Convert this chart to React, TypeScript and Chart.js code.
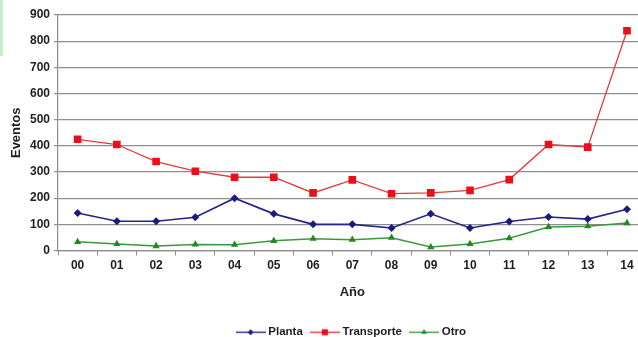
import React, { useEffect, useRef } from "react";
import { Chart, registerables } from "chart.js";

Chart.register(...registerables);

const years = ["00", "01", "02", "03", "04", "05", "06", "07", "08", "09", "10", "11", "12", "13", "14"];
const planta = [143, 112, 112, 127, 200, 140, 100, 100, 86, 140, 86, 111, 128, 120, 158];
const transporte = [425, 405, 340, 303, 280, 280, 220, 270, 217, 220, 230, 271, 405, 395, 840];
const otro = [33, 25, 17, 23, 22, 37, 45, 41, 49, 13, 25, 47, 90, 93, 105];

const FONT = 'Arial, "Liberation Sans", sans-serif';
const GRID = "#8e8e8e";
const TEXT = "#1e1e1e";

type SeriesStyle = { line: string; fill: string; shape: "rectRot" | "rect" | "triangle"; radius: number; width: number };

const styles: Record<string, SeriesStyle> = {
  Planta: { line: "#24248c", fill: "#1a1a80", shape: "rectRot", radius: 4, width: 1.6 },
  Transporte: { line: "#e43a3a", fill: "#e8111b", shape: "rect", radius: 5.4, width: 1.3 },
  Otro: { line: "#3a9a3a", fill: "#1f8a22", shape: "triangle", radius: 4.2, width: 1.5 },
};

// small line-with-marker swatch used by the legend
function makeSwatch(s: SeriesStyle): HTMLCanvasElement {
  const c = document.createElement("canvas");
  c.width = 30;
  c.height = 11;
  const ctx = c.getContext("2d")!;
  ctx.strokeStyle = s.line;
  ctx.lineWidth = 1.4;
  ctx.beginPath();
  ctx.moveTo(0, 5.5);
  ctx.lineTo(30, 5.5);
  ctx.stroke();
  ctx.fillStyle = s.fill;
  const cx = 15, cy = 5.5, r = s.radius * 0.75;
  ctx.beginPath();
  if (s.shape === "rectRot") {
    ctx.moveTo(cx - r, cy);
    ctx.lineTo(cx, cy - r);
    ctx.lineTo(cx + r, cy);
    ctx.lineTo(cx, cy + r);
  } else if (s.shape === "rect") {
    const h = r * 0.75;
    ctx.rect(cx - h, cy - h, 2 * h, 2 * h);
  } else {
    ctx.moveTo(cx, cy - r);
    ctx.lineTo(cx + r * 0.87, cy + r * 0.5);
    ctx.lineTo(cx - r * 0.87, cy + r * 0.5);
  }
  ctx.closePath();
  ctx.fill();
  return c;
}

function series(label: string, data: number[]) {
  const s = styles[label];
  return {
    label,
    data,
    borderColor: s.line,
    backgroundColor: s.fill,
    borderWidth: s.width,
    pointStyle: s.shape,
    pointRadius: s.radius,
    pointBackgroundColor: s.fill,
    pointBorderColor: s.fill,
    pointBorderWidth: 0,
    tension: 0,
  };
}

export default function App() {
  const ref = useRef<HTMLCanvasElement | null>(null);

  useEffect(() => {
    if (!ref.current) return;
    const swatches: Record<string, HTMLCanvasElement> = {
      Planta: makeSwatch(styles.Planta),
      Transporte: makeSwatch(styles.Transporte),
      Otro: makeSwatch(styles.Otro),
    };
    const chart = new Chart(ref.current, {
      type: "line",
      data: {
        labels: years,
        datasets: [series("Planta", planta), series("Transporte", transporte), series("Otro", otro)],
      },
      options: {
        responsive: false,
        animation: false,
        layout: { padding: { top: 15, right: 0, bottom: 0, left: 0 } },
        plugins: {
          tooltip: { enabled: false },
          legend: {
            position: "bottom",
            fullSize: false,
            labels: {
              usePointStyle: true,
              pointStyleWidth: 24,
              padding: 10,
              color: TEXT,
              font: { family: FONT, size: 11.5, weight: "bold" },
              generateLabels: (c: any) =>
                c.data.datasets.map((d: any, i: number) => ({
                  text: d.label,
                  pointStyle: swatches[d.label],
                  fillStyle: d.backgroundColor,
                  strokeStyle: d.borderColor,
                  lineWidth: 0,
                  hidden: false,
                  datasetIndex: i,
                  fontColor: TEXT,
                })),
            },
          },
        },
        scales: {
          x: {
            offset: true,
            grid: { display: true, drawOnChartArea: false, drawTicks: true, tickLength: 5, color: GRID, offset: true },
            border: { color: GRID, width: 1.2 },
            ticks: { color: TEXT, font: { family: FONT, size: 12, weight: "bold" }, padding: 3, maxRotation: 0, autoSkip: false },
            title: {
              display: true,
              text: "Año",
              color: TEXT,
              font: { family: FONT, size: 13, weight: "bold" },
              padding: { top: 9, bottom: 16 },
            },
          },
          y: {
            min: 0,
            max: 900,
            afterFit: (scale: any) => {
              scale.width = 58;
            },
            ticks: { stepSize: 100, color: TEXT, font: { family: FONT, size: 12, weight: "bold" }, padding: 4 },
            grid: { color: GRID, lineWidth: 1.2, tickLength: 4 },
            border: { color: GRID, width: 1.2 },
            title: {
              display: true,
              text: "Eventos",
              color: TEXT,
              font: { family: FONT, size: 13, weight: "bold" },
              padding: { top: 9, bottom: 0 },
            },
          },
        },
      },
    } as any);
    return () => chart.destroy();
  }, []);

  return (
    <div style={{ position: "fixed", left: 0, top: 0, width: 638, height: 337, overflow: "hidden", background: "#fff" }}>
      <div style={{ position: "absolute", left: 0, top: 0, width: 3, height: 56, background: "#cdeccd" }} />
      <canvas ref={ref} width={652} height={348} style={{ position: "absolute", left: 0, top: 0, width: 652, height: 348 }} />
    </div>
  );
}
